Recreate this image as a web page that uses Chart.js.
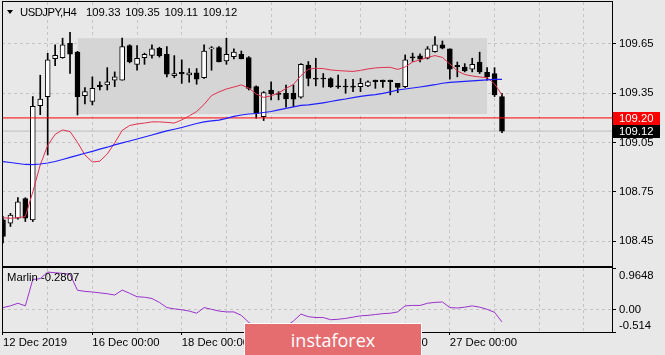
<!DOCTYPE html>
<html><head><meta charset="utf-8">
<script src="https://cdn.jsdelivr.net/npm/chart.js@4/dist/chart.umd.min.js"></script>
<style>
html,body{margin:0;padding:0;background:#e8e8e8;width:665px;height:355px;overflow:hidden;position:relative;font-family:'Liberation Sans',Arial,sans-serif;}
#main{position:absolute;left:0;top:0;}
#sub{position:absolute;left:0;top:266px;}
.t{position:absolute;font-size:11.3px;line-height:13px;color:#000;white-space:pre;}
#tri{position:absolute;left:7px;top:10px;width:0;height:0;border-left:3.5px solid transparent;border-right:3.5px solid transparent;border-top:4px solid #000;}
#logo{position:absolute;left:244px;top:323px;width:176px;height:34px;background:#e56d70;border:1px solid #fff;border-bottom:none;color:#fff;font-family:'Open Sans',sans-serif;font-size:18px;line-height:32px;text-align:center;}
</style></head><body>
<canvas id="main" width="665" height="268"></canvas>
<canvas id="sub" width="665" height="89"></canvas>
<div id="tri"></div>
<div class="t" id="sym" style="left:20px;top:6px;letter-spacing:-0.5px"></div>
<div class="t" id="ohlc" style="left:86px;top:6px;word-spacing:1.5px"></div>
<div class="t" id="ind" style="left:7px;top:271px"></div>
<div id="logo">instaforex</div>
<script>
// ---- data ----
const SYMBOL = 'USDJPY', TIMEFRAME = 'H4', IND_NAME = 'Marlin';
const OPEN  = [108.58,108.56,108.59,108.71,108.58,109.275,109.33,109.56,109.567,109.654,109.60,109.336,109.30,109.40,109.40,109.43,109.43,109.64,109.526,109.567,109.58,109.624,109.587,109.457,109.478,109.462,109.475,109.445,109.62,109.628,109.547,109.573,109.587,109.567,109.39,109.208,109.37,109.345,109.35,109.35,109.326,109.522,109.44,109.44,109.44,109.392,109.392,109.39,109.39,109.395,109.43,109.43,109.43,109.41,109.39,109.567,109.577,109.563,109.603,109.644,109.62,109.52,109.51,109.496,109.54,109.478,109.47,109.33];
const HIGH  = [108.60,108.62,108.715,108.715,109.33,109.46,109.593,109.644,109.685,109.72,109.605,109.384,109.45,109.42,109.506,109.48,109.685,109.645,109.64,109.594,109.644,109.63,109.634,109.579,109.553,109.50,109.50,109.644,109.634,109.634,109.685,109.62,109.607,109.573,109.395,109.36,109.42,109.36,109.40,109.40,109.53,109.543,109.563,109.47,109.445,109.46,109.435,109.435,109.44,109.425,109.43,109.43,109.43,109.41,109.583,109.594,109.59,109.634,109.695,109.668,109.62,109.54,109.53,109.563,109.60,109.506,109.506,109.35];
const LOW   = [108.44,108.54,108.585,108.57,108.57,109.22,108.975,109.518,109.563,109.47,109.218,109.285,109.279,109.37,109.37,109.39,109.43,109.535,109.49,109.526,109.563,109.57,109.45,109.445,109.41,109.417,109.405,109.44,109.49,109.54,109.526,109.559,109.559,109.37,109.198,109.184,109.31,109.31,109.265,109.27,109.32,109.395,109.395,109.387,109.385,109.38,109.35,109.36,109.36,109.39,109.38,109.385,109.34,109.354,109.385,109.543,109.54,109.559,109.60,109.62,109.435,109.45,109.48,109.48,109.47,109.43,109.33,109.11];
const CLOSE = [108.48,108.61,108.69,108.59,109.27,109.315,109.553,109.58,109.644,109.587,109.33,109.36,109.38,109.39,109.42,109.45,109.634,109.54,109.563,109.587,109.62,109.579,109.466,109.47,109.467,109.474,109.435,109.607,109.625,109.54,109.587,109.60,109.559,109.38,109.228,109.354,109.346,109.343,109.315,109.314,109.526,109.44,109.435,109.437,109.39,109.389,109.388,109.387,109.41,109.42,109.42,109.42,109.42,109.385,109.553,109.565,109.557,109.62,109.644,109.624,109.496,109.51,109.486,109.526,109.48,109.45,109.34,109.12];
const MA_RED  = [108.593,108.590,108.593,108.600,108.750,108.914,109.033,109.100,109.127,109.117,109.051,108.975,108.932,108.937,108.981,109.048,109.124,109.154,109.163,109.169,109.176,109.176,109.173,109.169,109.188,109.212,109.239,109.282,109.336,109.358,109.376,109.388,109.401,109.381,109.346,109.325,109.334,109.352,109.379,109.404,109.457,109.496,109.502,109.500,109.492,109.488,109.485,109.483,109.489,109.498,109.504,109.507,109.508,109.495,109.510,109.540,109.553,109.568,109.579,109.568,109.528,109.486,109.464,109.455,109.449,109.445,109.407,109.340];
const MA_BLUE = [108.934,108.929,108.923,108.917,108.916,108.920,108.926,108.935,108.947,108.960,108.972,108.985,108.997,109.010,109.022,109.036,109.048,109.060,109.072,109.084,109.096,109.109,109.121,109.131,109.142,109.154,109.166,109.176,109.182,109.187,109.197,109.209,109.218,109.224,109.227,109.233,109.239,109.249,109.258,109.267,109.276,109.279,109.285,109.292,109.300,109.308,109.315,109.323,109.331,109.337,109.342,109.349,109.358,109.370,109.376,109.382,109.388,109.395,109.402,109.411,109.416,109.419,109.422,109.425,109.428,109.431,109.434,109.435];
const MARLIN  = [0.05,0.09,0.15,0.09,0.70,0.72,0.87,0.855,0.84,0.82,0.45,0.425,0.41,0.39,0.37,0.34,0.455,0.38,0.30,0.29,0.26,0.17,0.05,0.02,0.00,-0.03,-0.08,0.05,0.01,-0.03,-0.05,-0.05,-0.13,-0.29,-0.40,-0.46,-0.48,-0.45,-0.38,-0.26,-0.10,-0.16,-0.18,-0.18,-0.23,-0.22,-0.20,-0.17,-0.14,-0.13,-0.11,-0.09,-0.08,-0.05,0.09,0.10,0.10,0.15,0.17,0.18,0.05,0.04,0.06,0.09,0.06,0.01,-0.06,-0.2807];
const TIME_LABELS = ['12 Dec 2019','16 Dec 00:00','18 Dec 00:00','20 Dec 00:00','24 Dec 00:00','27 Dec 00:00'];
const PRICE_TICKS = [108.45,108.75,109.05,109.35,109.65];
const SUB_TICKS = [-0.514, 0, 0.9648];
const SUB_TICK_LABELS = ['-0.514','0.00','0.9648'];
const RED_LEVEL = 109.20;
const BOX_FROM = 10, BOX_TO = 65, BOX_HIGH = 109.685, BOX_LOW = 109.224;

// ---- view settings ----
const X_MIN = -0.134, X_MAX = 81.77, Y_MIN = 108.2996, Y_MAX = 109.905;
const SUB_MIN = -0.514, SUB_MAX = 0.9648;
const BARS_PER_GRID = 6, BARS_PER_LABEL = 12;
const FONT = "'Liberation Sans', Arial, sans-serif", FS = 11.3;
const GRID = '#c4c4c4';
const last = CLOSE.length - 1;

Chart.defaults.font.family = FONT;
Chart.defaults.font.size = FS;
Chart.defaults.color = '#000';

document.getElementById('sym').textContent = SYMBOL + ',' + TIMEFRAME;
document.getElementById('ohlc').textContent = [OPEN[last], HIGH[last], LOW[last], CLOSE[last]].map(v => v.toFixed(2)).join(' ');
document.getElementById('ind').textContent = IND_NAME + ' ' + MARLIN[last].toFixed(4);

const idx = OPEN.map((_, i) => i);
function gridTicks(s) {
  const t = [];
  for (let v = 0; v <= X_MAX; v += BARS_PER_GRID) t.push({value: v});
  s.ticks = t;
}
const frame = {id: 'frame', afterDraw(c) {
  const a = c.chartArea, x = c.ctx;
  x.save(); x.strokeStyle = '#000'; x.lineWidth = 1;
  x.strokeRect(a.left + 0.5, a.top - 0.5, a.right - a.left, a.bottom - a.top + 1);
  x.restore();
}};
const priceBoxes = {id: 'priceBoxes', afterDraw(c) {
  const a = c.chartArea, x = c.ctx, ys = c.scales.y;
  [[CLOSE[last], '#000000'], [RED_LEVEL, '#ff0000']].forEach(([v, bg]) => {
    const y = ys.getPixelForValue(v);
    x.save();
    x.fillStyle = bg; x.fillRect(a.right + 1, Math.round(y) - 6, 47, 13);
    x.fillStyle = '#fff'; x.font = FS + 'px ' + FONT; x.textBaseline = 'middle'; x.textAlign = 'left';
    x.fillText(v.toFixed(2), a.right + 7, y + 0.5);
    x.restore();
  });
}};
const line = (data, color, width, order) => ({type: 'line', data, borderColor: color, borderWidth: width, pointRadius: 0, fill: false, tension: 0, order});

new Chart(document.getElementById('main'), {
  type: 'bar',
  data: {datasets: [
    {type: 'line', data: [{x: BOX_FROM, y: BOX_HIGH}, {x: BOX_TO, y: BOX_HIGH}], borderWidth: 0, pointRadius: 0, fill: '+1', backgroundColor: '#d5d5d5', order: 10},
    {type: 'line', data: [{x: BOX_FROM, y: BOX_LOW}, {x: BOX_TO, y: BOX_LOW}], borderWidth: 0, pointRadius: 0, fill: false, order: 10},
    line([{x: X_MIN, y: CLOSE[last]}, {x: X_MAX, y: CLOSE[last]}], '#bdbdbd', 1, 5),
    {type: 'bar', data: idx.map(i => ({x: i, y: [LOW[i], HIGH[i]]})), backgroundColor: '#000', barThickness: 1, grouped: false, order: 3},
    {type: 'bar', data: idx.map(i => ({x: i, y: [OPEN[i], CLOSE[i]]})),
      backgroundColor: ctx => CLOSE[ctx.dataIndex] >= OPEN[ctx.dataIndex] ? '#ffffff' : '#000000',
      borderColor: '#000', borderWidth: 1, borderSkipped: false, barThickness: 5, grouped: false, minBarLength: 1, order: 2},
    line([{x: X_MIN, y: RED_LEVEL}, {x: X_MAX, y: RED_LEVEL}], '#ff0000', 1, 1),
    line(idx.map(i => ({x: i, y: MA_BLUE[i]})), '#1f1fff', 1.2, 0),
    line(idx.map(i => ({x: i, y: MA_RED[i]})), '#e0304e', 1, 0)
  ]},
  options: {
    responsive: false, animation: false, devicePixelRatio: 1, events: [],
    layout: {padding: {left: 2, top: 2, right: 0, bottom: 2}},
    plugins: {legend: {display: false}, tooltip: {enabled: false}, title: {display: false}},
    scales: {
      x: {type: 'linear', min: X_MIN, max: X_MAX, offset: false,
        grid: {offset: false, color: GRID, drawTicks: false}, border: {display: false, dash: [3, 3]},
        ticks: {display: false}, afterBuildTicks: gridTicks,
        afterFit: s => { s.height = 0; s.paddingLeft = 0; s.paddingRight = 0; }},
      y: {position: 'right', min: Y_MIN, max: Y_MAX,
        grid: {color: GRID, tickLength: 4, tickColor: '#000'}, border: {display: false, dash: [3, 3]},
        ticks: {padding: 3, crossAlign: 'near', autoSkip: false, callback: v => Number(v).toFixed(2)},
        afterBuildTicks: s => { s.ticks = PRICE_TICKS.map(v => ({value: v})); },
        afterFit: s => { s.width = 53; s.paddingTop = 0; s.paddingBottom = 0; }}
    }
  },
  plugins: [frame, priceBoxes]
});

new Chart(document.getElementById('sub'), {
  type: 'line',
  data: {datasets: [line(idx.map(i => ({x: i, y: MARLIN[i]})), '#9932cc', 1, 0)]},
  options: {
    responsive: false, animation: false, devicePixelRatio: 1, events: [],
    layout: {padding: {left: 2, top: 2, right: 0, bottom: 0}},
    plugins: {legend: {display: false}, tooltip: {enabled: false}, title: {display: false}},
    scales: {
      x: {type: 'linear', min: X_MIN, max: X_MAX, offset: false,
        grid: {offset: false, color: GRID, tickLength: 3,
          tickColor: ctx => (ctx.tick && ctx.tick.value % BARS_PER_LABEL === 0 && TIME_LABELS[ctx.tick.value / BARS_PER_LABEL]) ? '#000' : 'rgba(0,0,0,0)'},
        border: {display: false, dash: [3, 3]},
        ticks: {align: 'start', padding: 1, maxRotation: 0, minRotation: 0, autoSkip: false,
          callback: v => (v % BARS_PER_LABEL === 0 ? (TIME_LABELS[v / BARS_PER_LABEL] || '') : '')},
        afterBuildTicks: gridTicks,
        afterFit: s => { s.height = 23; s.paddingLeft = 0; s.paddingRight = 0; }},
      y: {position: 'right', min: SUB_MIN, max: SUB_MAX,
        grid: {color: ctx => (ctx.tick && ctx.tick.value === 0) ? GRID : 'rgba(0,0,0,0)', tickLength: 4, tickColor: '#000'},
        border: {display: false, dash: [3, 3]},
        ticks: {padding: 3, crossAlign: 'near', autoSkip: false,
          font: ctx => ({family: FONT, size: FS, lineHeight: (ctx.tick && ctx.tick.value === SUB_MAX) ? '16px' : (ctx.tick && ctx.tick.value === SUB_MIN) ? '12px' : 1.2}),
          callback: v => {
            const s = SUB_TICK_LABELS[SUB_TICKS.indexOf(v)];
            return v === SUB_MAX ? ['', s] : v === SUB_MIN ? [s, ''] : s;
          }},
        afterBuildTicks: s => { s.ticks = SUB_TICKS.map(v => ({value: v})); },
        afterFit: s => { s.width = 53; s.paddingTop = 0; s.paddingBottom = 0; }}
    }
  },
  plugins: [frame]
});
</script>
</body></html>
